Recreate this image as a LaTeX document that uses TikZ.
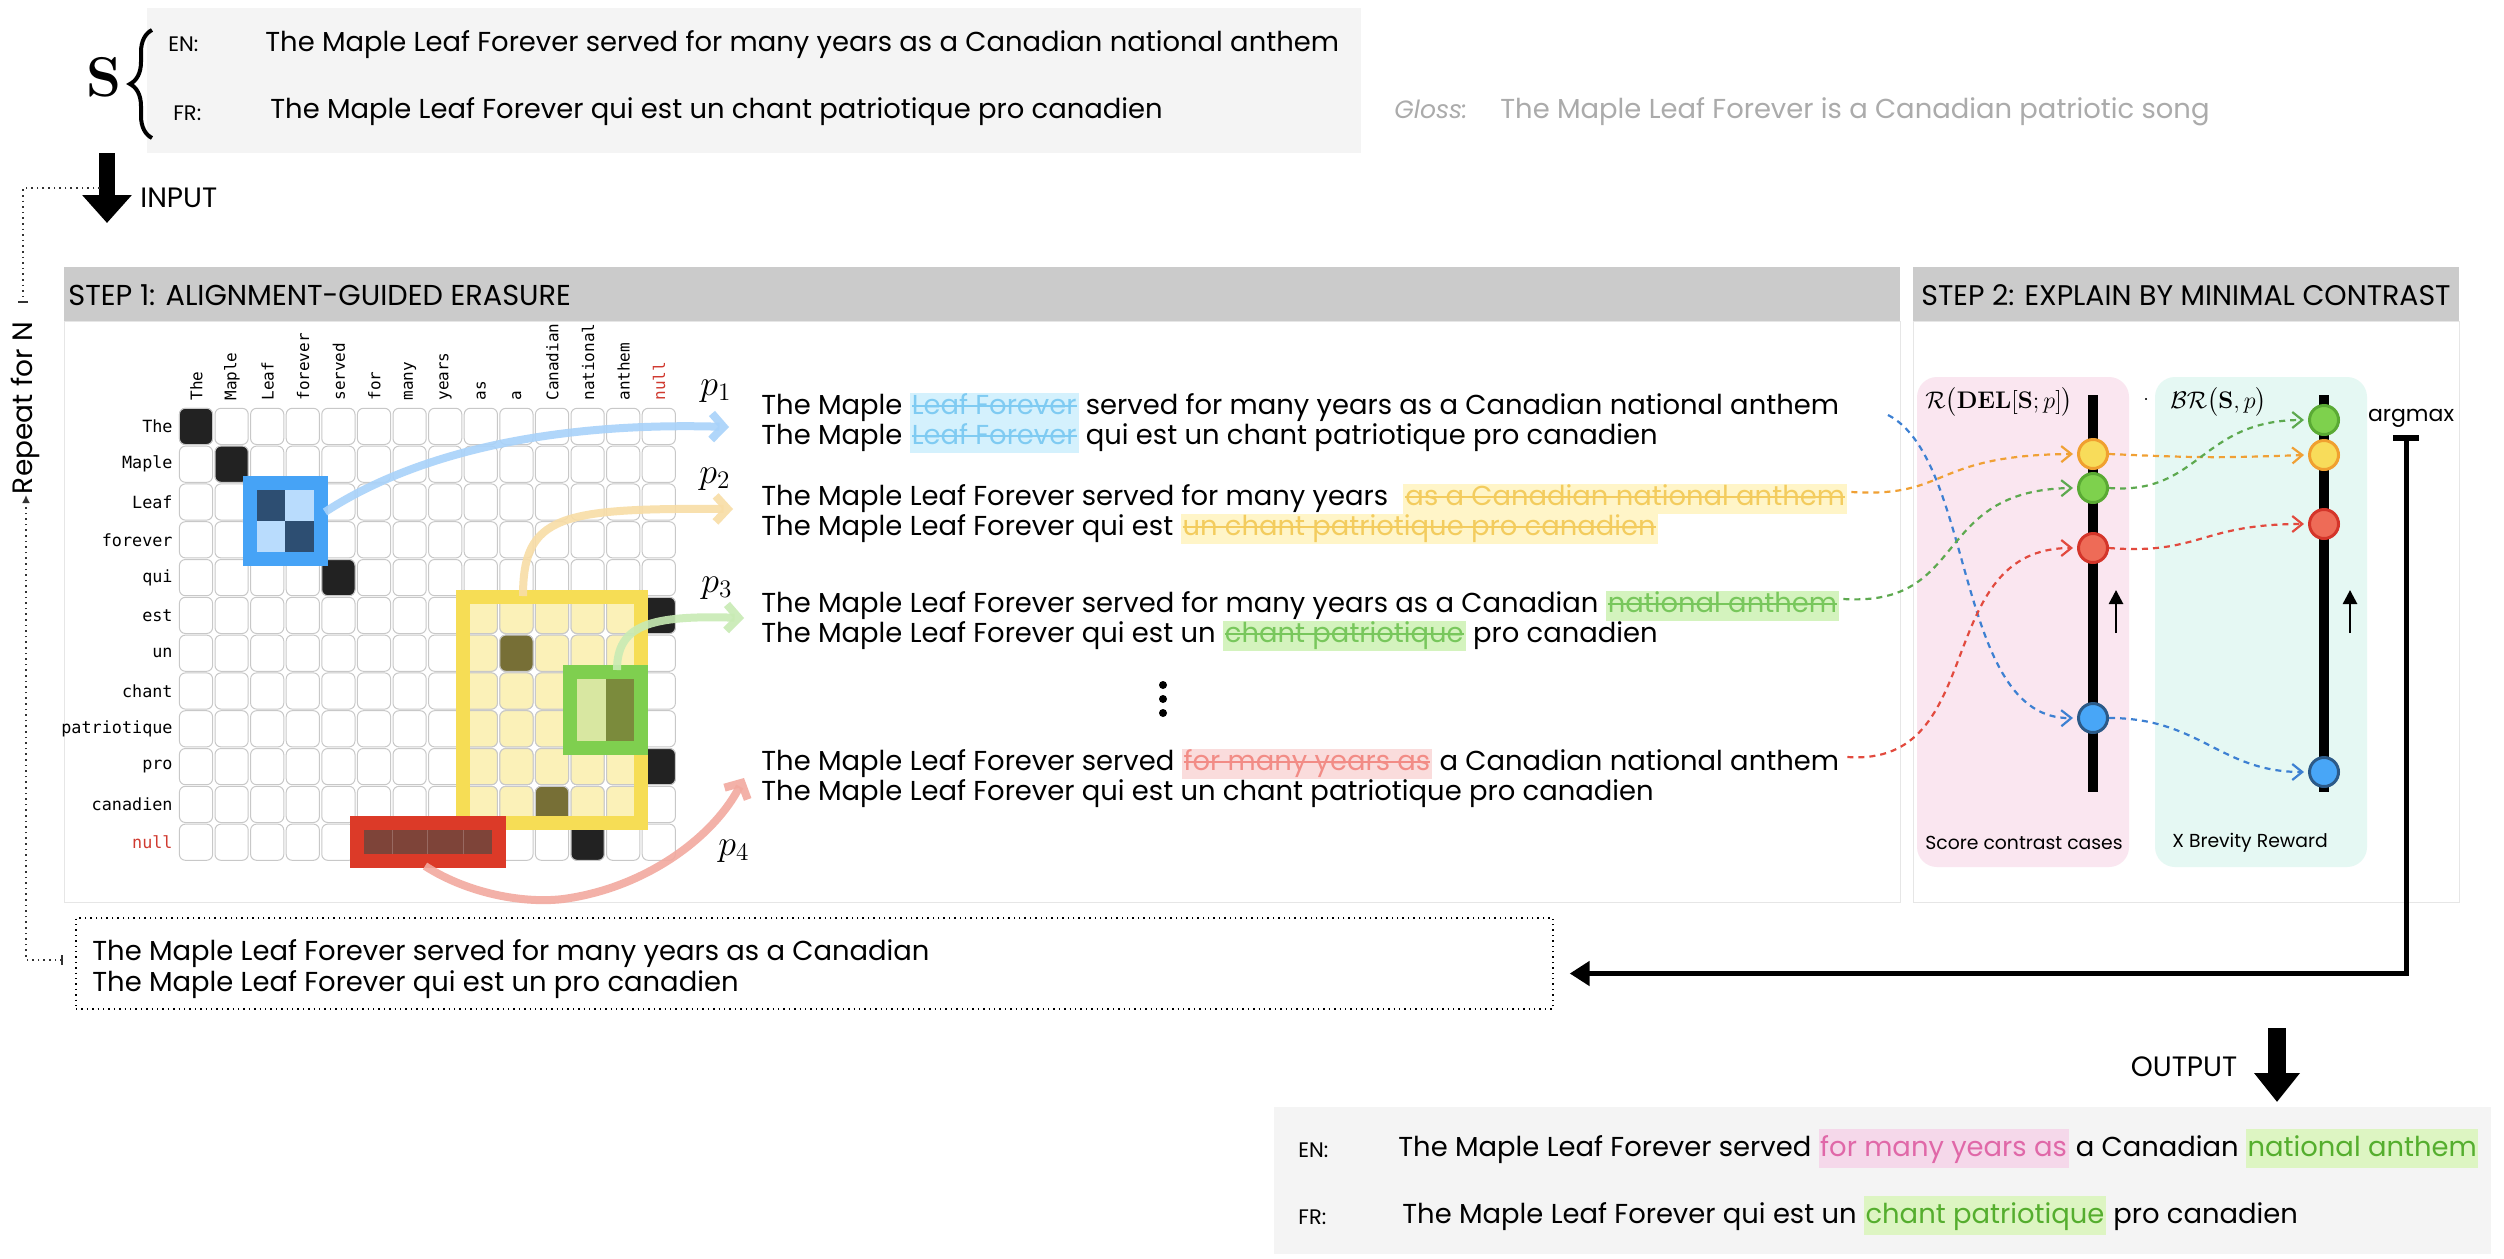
\RequirePackage{fix-cm}
\documentclass[tikz,border=0pt]{standalone}
\usepackage{amsmath}
\usepackage[no-math]{fontspec}
\setmainfont{Poppins}
\setmonofont{DejaVu Sans Mono}
\usetikzlibrary{arrows.meta,decorations.pathreplacing,calc}

\definecolor{topbg}{HTML}{F4F4F4}
\definecolor{hdr}{HTML}{CBCBCB}
\definecolor{bodyln}{HTML}{E6E6E6}
\definecolor{cellln}{HTML}{C8C8C8}
\definecolor{blackc}{HTML}{222222}
\definecolor{dblue}{HTML}{2D4E72}
\definecolor{lblue}{HTML}{B9DCFD}
\definecolor{bluebox}{HTML}{46A3F6}
\definecolor{ylwcell}{HTML}{FBF1B8}
\definecolor{ylwbox}{HTML}{F6DD55}
\definecolor{olive}{HTML}{776F36}
\definecolor{greenbox}{HTML}{7FCF4F}
\definecolor{lgreen}{HTML}{D8E7A1}
\definecolor{ogreen}{HTML}{7B8B3C}
\definecolor{redbox}{HTML}{DC3A28}
\definecolor{brown}{HTML}{7E4439}
\definecolor{arrBlue}{HTML}{A8D2FA}
\definecolor{arrYel}{HTML}{F8DDA6}
\definecolor{arrGreen}{HTML}{C8EBB4}
\definecolor{arrRed}{HTML}{F2A99F}
\definecolor{hlCyan}{HTML}{D4F1FD}
\definecolor{txCyan}{HTML}{7FCBF2}
\definecolor{hlYel}{HTML}{FFF5C8}
\definecolor{txYel}{HTML}{F3CC5E}
\definecolor{hlGreen}{HTML}{D4F3BE}
\definecolor{txGreen}{HTML}{78C75C}
\definecolor{hlPink}{HTML}{FADCDC}
\definecolor{txPink}{HTML}{F28C86}
\definecolor{outPinkBg}{HTML}{F5D8EA}
\definecolor{outPinkTx}{HTML}{E068A8}
\definecolor{outGreenBg}{HTML}{DDF5C2}
\definecolor{outGreenTx}{HTML}{55AE2E}
\definecolor{pinkpanel}{HTML}{FAE6F0}
\definecolor{mintpanel}{HTML}{E5F8F3}
\definecolor{cyF}{HTML}{F8DC5A}
\definecolor{cyD}{HTML}{F0A030}
\definecolor{cgF}{HTML}{7ED14D}
\definecolor{cgD}{HTML}{5AAA34}
\definecolor{crF}{HTML}{EE6B57}
\definecolor{crD}{HTML}{D4352A}
\definecolor{cbF}{HTML}{48A6F7}
\definecolor{cbD}{HTML}{2C5A88}
\definecolor{dBlue}{HTML}{3D80D2}
\definecolor{dOrange}{HTML}{F0A034}
\definecolor{dGreen}{HTML}{5DA94F}
\definecolor{dRed}{HTML}{E24A3E}
\definecolor{glossgray}{HTML}{ABABAB}
\definecolor{nullred}{HTML}{D03A30}

\newcommand{\sfs}{\fontsize{13.7}{15}\selectfont}
\newsavebox\hlbox
\newcommand{\hlS}[3]{{\sbox\hlbox{\textcolor{#2}{#3}}\setlength{\fboxsep}{0pt}\colorbox{#1}{\hspace{1pt}\strut\rlap{\usebox\hlbox}\textcolor{#2}{\rule[0.27em]{\wd\hlbox}{0.06em}}\hspace{1pt}}}}
\newcommand{\hlO}[3]{{\setlength{\fboxsep}{0.8pt}\colorbox{#1}{\textcolor{#2}{\rule[-5.2pt]{0pt}{18pt}#3}}}}
\newcommand{\mcell}[3]{\filldraw[cellst, fill=#3] ({179.4+35.6*#1},{408.3+37.8*#2}) rectangle ({212.6+35.6*#1},{444.5+37.8*#2});}
\newcommand{\bcell}[3]{\fill[#3] ({178.6+35.6*#1},{407.5+37.8*#2}) rectangle ({214.2+35.6*#1},{445.3+37.8*#2});}
\newcommand{\selframe}[5]{\draw[line width=7pt, #5] ({178.6+35.6*#1},{407.5+37.8*#2}) rectangle ({178.6+35.6*#3},{407.5+37.8*#4});}

\begin{document}
\begin{tikzpicture}[x=0.5pt,y=-0.5pt,
  sent/.style={anchor=base west, inner sep=0pt, font=\sfs, text=black},
  cellst/.style={draw=cellln, line width=0.5pt, rounded corners=3pt},
  rowlab/.style={anchor=east, inner sep=0pt, font=\ttfamily\fontsize{8.4}{9}\selectfont},
  collab/.style={anchor=west, inner sep=0pt, rotate=90, font=\ttfamily\fontsize{8}{9}\selectfont},
  thickarr/.style={line width=4pt, -{Straight Barb[length=6pt,width=13pt]}},
  dsh/.style={dash pattern=on 3pt off 2.5pt, line width=1.1pt, -{Straight Barb[length=5pt,width=8pt]}},
  circ/.style={circle, minimum size=14.5pt, inner sep=0pt, line width=1.5pt},
  dotln/.style={dotted, line width=0.8pt, draw=black!80},
  lab/.style={inner sep=0pt},
  tag/.style={inner sep=0pt, anchor=west, font=\fontsize{10.5}{12}\selectfont},
  ]
\useasboundingbox (0,0) rectangle (2504,1258);
\fill[white] (0,0) rectangle (2504,1258);

% ---------- top input box
\fill[topbg] (147,8) rectangle (1361,153);
\node[lab] (S) at (104,77) {\fontsize{28}{28}\selectfont$\mathbf{S}$};
\draw[line width=2pt, decorate, decoration={brace, amplitude=11pt}] (152,138) -- (152,30);
\node[tag] (en0) at (168,44) {EN:};
\node[tag] (fr0) at (173,113) {FR:};
\node[sent] (s0a) at (265,51) {The Maple Leaf Forever served for many years as a Canadian national anthem};
\node[sent] (s0b) at (270,118) {The Maple Leaf Forever qui est un chant patriotique pro canadien};
\node[sent, text=glossgray, font=\itshape\fontsize{12.5}{14}\selectfont] (gl) at (1394,118) {Gloss:};
\node[sent, text=glossgray] (glt) at (1500,118) {The Maple Leaf Forever is a Canadian patriotic song};

% ---------- input arrow and loop
\coordinate (inS) at (107,153);
\coordinate (inE) at (107,223);
\draw[line width=8pt, -{Triangle[length=14pt,width=24pt]}] (inS) -- (inE);
\node[lab, anchor=west, font=\fontsize{14}{16}\selectfont] (inlab) at (140,198) {INPUT};
\coordinate (lpA) at (100,188);
\coordinate (lpB) at (23,303);
\draw[dotln, -{Bar[width=5pt]}] (lpA) -| (lpB);
\node[lab, rotate=90, font=\fontsize{14}{16}\selectfont] (rep) at (25,408) {Repeat for N};

% ---------- step panels
\fill[hdr] (64,267) rectangle (1900,321);
\draw[bodyln, fill=white] (64,321) rectangle (1900,902);
\node[lab, anchor=west, font=\fontsize{14.4}{16}\selectfont] (h1) at (68,295) {STEP 1: ALIGNMENT-GUIDED ERASURE};
\fill[hdr] (1913,267) rectangle (2459,321);
\draw[bodyln, fill=white] (1913,321) rectangle (2459,902);
\node[lab, anchor=west, font=\fontsize{14.2}{16}\selectfont] (h2) at (1921,295) {STEP 2: EXPLAIN BY MINIMAL CONTRAST};

% ---------- matrix
\foreach \c in {0,...,13}{\foreach \r in {0,...,11}{\mcell{\c}{\r}{white}}}
\foreach \c in {8,...,12}{\foreach \r in {5,...,10}{\mcell{\c}{\r}{ylwcell}}}
\mcell{9}{6}{olive}
\mcell{10}{10}{olive}
\mcell{0}{0}{blackc}
\mcell{1}{1}{blackc}
\mcell{4}{4}{blackc}
\mcell{13}{5}{blackc}
\mcell{13}{9}{blackc}
\mcell{11}{11}{blackc}
\bcell{2}{2}{dblue}
\bcell{3}{3}{dblue}
\bcell{3}{2}{lblue}
\bcell{2}{3}{lblue}
\bcell{11}{7}{lgreen}
\bcell{11}{8}{lgreen}
\bcell{12}{7}{ogreen}
\bcell{12}{8}{ogreen}
\foreach \c in {5,...,8}{\bcell{\c}{11}{brown}\draw[brown!80!white, line width=0.4pt] ({178.6+35.6*\c},823) -- ({178.6+35.6*\c},861);}
\selframe{8}{5}{13}{11}{ylwbox}
\selframe{11}{7}{13}{9}{greenbox}
\selframe{2}{2}{4}{4}{bluebox}
\selframe{5}{11}{9}{12}{redbox}

\foreach \t [count=\i from 0] in {The,Maple,Leaf,forever,qui,est,un,chant,patriotique,pro,canadien}
  \node[rowlab] (rl\i) at (173,{426.4+37.8*\i}) {\t};
\node[rowlab, text=nullred] (rl11) at (173,{426.4+37.8*11}) {null};
\foreach \t [count=\i from 0] in {The,Maple,Leaf,forever,served,for,many,years,as,a,Canadian,national,anthem}
  \node[collab] (cl\i) at ({196.4+35.6*\i},401) {\t};
\node[collab, text=nullred] (cl13) at ({196.4+35.6*13},401) {null};

% ---------- p labels
\node[lab] (lp1) at (716,391) {\fontsize{18}{18}\selectfont$p_1$};
\node[lab] (lp2) at (715,479) {\fontsize{18}{18}\selectfont$p_2$};
\node[lab] (lp3) at (717,588) {\fontsize{18}{18}\selectfont$p_3$};
\node[lab] (lp4) at (734,851) {\fontsize{18}{18}\selectfont$p_4$};

% ---------- sentences
\node[sent] (p1a) at (761,414) {The Maple \hlS{hlCyan}{txCyan}{Leaf Forever} served for many years as a Canadian national anthem};
\node[sent] (p1b) at (761,444) {The Maple \hlS{hlCyan}{txCyan}{Leaf Forever} qui est un chant patriotique pro canadien};
\node[sent] (p2a) at (761,505) {The Maple Leaf Forever served for many years\hspace{4pt} \hlS{hlYel}{txYel}{as a Canadian national anthem}};
\node[sent] (p2b) at (761,535) {The Maple Leaf Forever qui est \hlS{hlYel}{txYel}{un chant patriotique pro canadien}};
\node[sent] (p3a) at (761,612) {The Maple Leaf Forever served for many years as a Canadian \hlS{hlGreen}{txGreen}{national anthem}};
\node[sent] (p3b) at (761,642) {The Maple Leaf Forever qui est un \hlS{hlGreen}{txGreen}{chant patriotique} pro canadien};
\node[sent] (p4a) at (761,770) {The Maple Leaf Forever served \hlS{hlPink}{txPink}{for many years as} a Canadian national anthem};
\node[sent] (p4b) at (761,800) {The Maple Leaf Forever qui est un chant patriotique pro canadien};
\foreach \yy in {685,699,713}{\fill (1163,\yy) circle (2pt);}

% ---------- curved arrows from matrix
\coordinate (bS) at (325,512);
\coordinate (bE) at (729,427);
\draw[thickarr, arrBlue, opacity=0.9] (bS) .. controls (420,450) and (560,422) .. (bE);
\coordinate (yS) at (523,596);
\coordinate (yE) at (733,509);
\draw[thickarr, arrYel, opacity=0.9] (yS) .. controls (523,515) and (560,508) .. (yE);
\coordinate (gS) at (617,670);
\coordinate (gE) at (744,618);
\draw[thickarr, arrGreen, opacity=0.9] (gS) .. controls (617,625) and (650,615) .. (gE);
\coordinate (rS) at (425,866);
\coordinate (rM) at (570,898);
\coordinate (rE) at (744,778);
\draw[thickarr, arrRed, opacity=0.9] (rS) .. controls (470,895) and (530,905) .. (rM) .. controls (650,885) and (715,835) .. (rE);

% ---------- step 2
\fill[pinkpanel, rounded corners=10pt] (1917,377) rectangle (2129,867);
\fill[mintpanel, rounded corners=10pt] (2155,377) rectangle (2367,867);
\fill[black] (2088,395) rectangle (2098,792);
\fill[black] (2319,395) rectangle (2329,792);
\draw[line width=1.3pt, -{Triangle[length=7pt,width=7pt]}] (2116,633) -- (2116,590);
\draw[line width=1.3pt, -{Triangle[length=7pt,width=7pt]}] (2350,633) -- (2350,590);
\node[lab, anchor=west] (lR) at (1925,402) {\fontsize{12}{14}\selectfont$\mathcal{R}\big(\mathbf{DEL}[\mathbf{S};p]\big)$};
\node[lab] (ldot) at (2146,400) {$\cdot$};
\node[lab, anchor=west] (lBR) at (2170,402) {\fontsize{12}{14}\selectfont$\mathcal{B}\mathcal{R}\big(\mathbf{S},p\big)$};
\node[lab, font=\fontsize{9.4}{11}\selectfont] (sc) at (2024,843) {Score contrast cases};
\node[lab, font=\fontsize{9.4}{11}\selectfont] (br) at (2250,843) {X Brevity Reward};

\node[circ, fill=cyF, draw=cyD] (c1y) at (2093,454) {};
\node[circ, fill=cgF, draw=cgD] (c1g) at (2093,488) {};
\node[circ, fill=crF, draw=crD] (c1r) at (2093,548) {};
\node[circ, fill=cbF, draw=cbD] (c1b) at (2093,718) {};
\node[circ, fill=cgF, draw=cgD] (c2g) at (2324,420) {};
\node[circ, fill=cyF, draw=cyD] (c2y) at (2324,455) {};
\node[circ, fill=crF, draw=crD] (c2r) at (2324,524) {};
\node[circ, fill=cbF, draw=cbD] (c2b) at (2324,772) {};

\coordinate (dbS) at (1888,415);
\draw[dsh, dBlue] (dbS) .. controls (1975,460) and (1955,720) .. ([xshift=-2pt]c1b.west);
\draw[dsh, dOrange] ([xshift=2pt]p2a.east) ++(0,-7) .. controls (1950,498) and (1930,455) .. ([xshift=-2pt]c1y.west);
\draw[dsh, dGreen] ([xshift=2pt]p3a.east) ++(0,-7) .. controls (1970,607) and (1930,490) .. ([xshift=-2pt]c1g.west);
\draw[dsh, dRed] ([xshift=4pt]p4a.east) ++(0,-7) .. controls (1990,767) and (1930,548) .. ([xshift=-2pt]c1r.west);
\draw[dsh, dBlue] (c1b.east) .. controls (2200,718) and (2220,772) .. ([xshift=-2pt]c2b.west);
\draw[dsh, dOrange] (c1y.east) .. controls (2200,458) and (2220,458) .. ([xshift=-2pt]c2y.west);
\draw[dsh, dGreen] (c1g.east) .. controls (2200,495) and (2200,420) .. ([xshift=-2pt]c2g.west);
\draw[dsh, dRed] (c1r.east) .. controls (2200,555) and (2200,524) .. ([xshift=-2pt]c2r.west);

% ---------- argmax and result
\node[lab, font=\fontsize{11}{12}\selectfont] (argm) at (2411,418) {argmax};
\coordinate (argT) at (2406,438);
\draw[line width=3pt] (2393,438) -- (2419,438);
\node[draw, dotted, line width=0.7pt, minimum width=738.5pt, minimum height=45.5pt, inner sep=0pt] (res) at (814.5,963.5) {};
\node[sent] (ra) at (92,960) {The Maple Leaf Forever served for many years as a Canadian};
\node[sent] (rb) at (92,991) {The Maple Leaf Forever qui est un pro canadien};
\draw[line width=2.5pt, -{Triangle[length=10pt,width=12pt]}] (argT) |- ([xshift=8pt,yshift=-5pt]res.east);
\coordinate (lpC) at (63,960);
\coordinate (lpD) at (26,495);
\draw[dotln, {Bar[width=5pt]}-{Latex[length=4pt,width=4pt]}] (lpC) -| (lpD);

% ---------- output
\coordinate (outS) at (2277,1028);
\coordinate (outE) at (2277,1102);
\draw[line width=9pt, -{Triangle[length=14.5pt,width=22pt]}] (outS) -- (outE);
\node[lab, font=\fontsize{14}{16}\selectfont] (outlab) at (2184,1067) {OUTPUT};
\fill[topbg] (1274,1107) rectangle (2491,1254);
\node[tag] (en1) at (1298,1150) {EN:};
\node[tag] (fr1) at (1298,1217) {FR:};
\node[sent] (oa) at (1398,1156) {The Maple Leaf Forever served \hlO{outPinkBg}{outPinkTx}{for many years as} a Canadian \hlO{outGreenBg}{outGreenTx}{national anthem}};
\node[sent] (ob) at (1402,1223) {The Maple Leaf Forever qui est un \hlO{outGreenBg}{outGreenTx}{chant patriotique} pro canadien};
\end{tikzpicture}
\end{document}
